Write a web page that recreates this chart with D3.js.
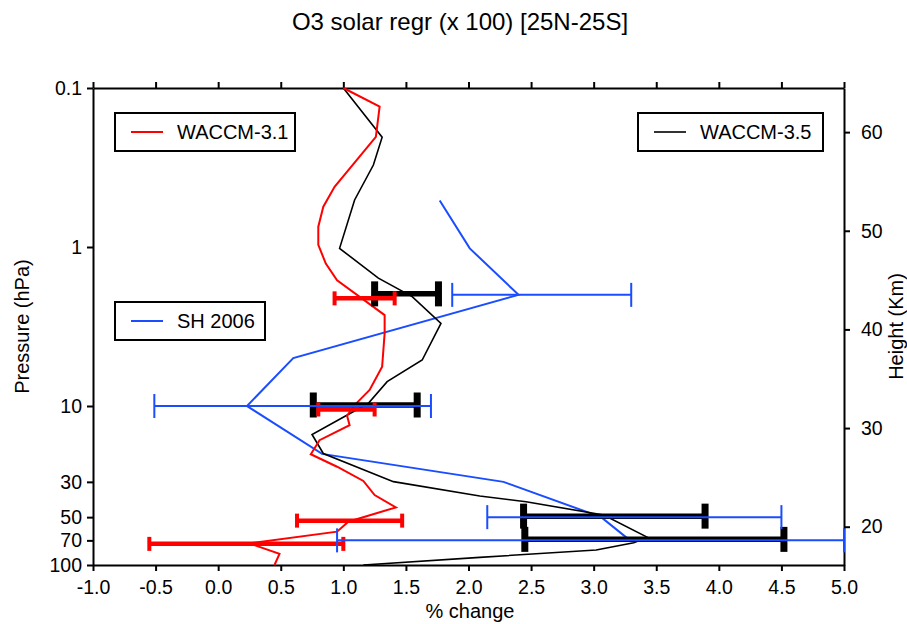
<!DOCTYPE html>
<html>
<head>
<meta charset="utf-8">
<script src="https://cdn.jsdelivr.net/npm/d3@7"></script>
<style>
  body { margin: 0; background: #fff; }
  svg text { font-family: "Liberation Sans", Arial, Helvetica, sans-serif; fill: #000; }
</style>
</head>
<body>
<svg id="mainsvg" width="907" height="624"></svg>
<script>
// tick values
var xTicks = [-1.0, -0.5, 0.0, 0.5, 1.0, 1.5, 2.0, 2.5, 3.0, 3.5, 4.0, 4.5, 5.0];
var presTicks = [0.1, 1, 10, 30, 50, 70, 100];
var heightTicks = [20, 30, 40, 50, 60];

// WACCM-3.1 profile (red)
var w31Pres = [0.1, 0.131, 0.203, 0.418, 0.558, 0.745, 0.97, 1.27, 1.62, 2.68, 3.49, 5.66, 7.93, 9.86, 11.5, 13.2, 16.4, 20.1, 24.1, 29.6, 36.3, 43.4, 53.4, 61.7, 73.1, 85.1, 100];
var w31Val  = [1.00, 1.29, 1.26, 0.93, 0.84, 0.80, 0.80, 0.86, 0.95, 1.33, 1.33, 1.31, 1.21, 1.09, 1.03, 1.05, 0.81, 0.74, 0.95, 1.16, 1.25, 1.42, 1.04, 0.95, 0.25, 0.49, 0.45];

// WACCM-3.5 profile (black)
var w35Pres = [0.1, 0.204, 0.305, 0.506, 1.02, 1.57, 2.05, 3.02, 5.14, 7.03, 9.62, 15.1, 19.9, 29.9, 36.8, 40, 48.5, 67, 72.4, 80.5, 89.5, 100];
var w35Val  = [1.00, 1.31, 1.24, 1.09, 0.97, 1.28, 1.55, 1.78, 1.63, 1.35, 1.20, 0.75, 0.84, 1.40, 2.09, 2.46, 3.08, 3.43, 3.32, 3.02, 2.09, 1.16];

// SH 2006 (blue)
var shPres = [0.51, 1.02, 2.0, 5.0, 10, 20, 30, 50, 70];
var shVal  = [1.77, 2.01, 2.40, 0.60, 0.23, 0.83, 2.28, 3.06, 3.29];

// error bars
var barPres = [2, 10, 50, 70];
var w35Lo = [1.25, 0.76, 2.44, 2.45];
var w35Hi = [1.76, 1.59, 3.89, 4.52];
var w31Lo = [0.93, 0.80, 0.63, -0.55];
var w31Hi = [1.41, 1.25, 1.47, 1.00];
var shLo  = [1.87, -0.51, 2.15, 0.95];
var shHi  = [3.30, 1.70, 4.50, 5.00];

var svg = d3.select('#mainsvg');
var pLeft = 93, pRight = 844, pTop = 88, pBottom = 565;

var x = d3.scaleLinear().domain([-1, 5]).range([pLeft, pRight]);
var y = d3.scaleLog().domain([0.1, 100]).range([pTop, pBottom]);
// height from log-pressure, 7 km scale height
var H = 7;
var h = d3.scaleLinear().domain([H * Math.log(1000 / 100), H * Math.log(1000 / 0.1)]).range([pBottom, pTop]);

var fmtX = function(d) { return d.toFixed(1); };

var gx = svg.append('g').attr('transform', 'translate(0,' + pBottom + ')')
	.call(d3.axisBottom(x).tickValues(xTicks).tickFormat(fmtX).tickSize(6).tickSizeOuter(0));
var gt = svg.append('g').attr('transform', 'translate(0,' + pTop + ')')
	.call(d3.axisTop(x).tickValues(xTicks).tickFormat('').tickSize(6).tickSizeOuter(0));
var gl = svg.append('g').attr('transform', 'translate(' + pLeft + ',0)')
	.call(d3.axisLeft(y).tickValues(presTicks).tickFormat(function(d) { return String(d); }).tickSize(6).tickSizeOuter(0));
var gr = svg.append('g').attr('transform', 'translate(' + pRight + ',0)')
	.call(d3.axisRight(h).tickValues(heightTicks).tickFormat(function(d) { return String(d); }).tickSize(6).tickSizeOuter(0));

[gx, gt, gl, gr].forEach(function(g) {
	g.select('.domain').attr('stroke', '#000').attr('stroke-width', 2);
	g.selectAll('.tick line').attr('stroke', '#000').attr('stroke-width', 2);
	g.selectAll('.tick text').attr('font-size', 19.5).attr('font-family', '"Liberation Sans", Arial, sans-serif').attr('fill', '#000');
});
gx.selectAll('.tick text').attr('dy', '1.0em');
gl.selectAll('.tick text').attr('x', -11);
gr.selectAll('.tick text').attr('x', 17);

// titles
svg.append('text').attr('x', 460).attr('y', 30).attr('text-anchor', 'middle')
	.attr('font-size', 24).text('O3 solar regr (x 100) [25N-25S]');
svg.append('text').attr('x', 470).attr('y', 618).attr('text-anchor', 'middle')
	.attr('font-size', 20).text('% change');
svg.append('text').attr('transform', 'translate(29,' + ((pTop + pBottom) / 2) + ') rotate(-90)')
	.attr('text-anchor', 'middle').attr('font-size', 20).text('Pressure (hPa)');
svg.append('text').attr('transform', 'translate(903,' + ((pTop + pBottom) / 2) + ') rotate(-90)')
	.attr('text-anchor', 'middle').attr('font-size', 20).text('Height (Km)');

// profiles
var line = d3.line()
	.x(function(d) { return x(d[0]); })
	.y(function(d) { return y(d[1]); });
function zip(v, p) { return v.map(function(d, i) { return [d, p[i]]; }); }

var plot = svg.append('g');
plot.append('path').attr('d', line(zip(shVal, shPres)))
	.attr('fill', 'none').attr('stroke', '#1a4dff').attr('stroke-width', 2);
plot.append('path').attr('d', line(zip(w35Val, w35Pres)))
	.attr('fill', 'none').attr('stroke', '#000').attr('stroke-width', 1.6);
plot.append('path').attr('d', line(zip(w31Val, w31Pres)))
	.attr('fill', 'none').attr('stroke', '#ff0000').attr('stroke-width', 2);

// error bars
function errBars(lo, hi, color, lw, capW, capH, dy) {
	var g = plot.append('g');
	var data = barPres.map(function(p, i) { return {p: p, lo: lo[i], hi: hi[i]}; });
	g.selectAll('line.bar').data(data).enter().append('line')
		.attr('x1', function(d) { return x(d.lo); })
		.attr('x2', function(d) { return x(d.hi); })
		.attr('y1', function(d) { return y(d.p) + dy; })
		.attr('y2', function(d) { return y(d.p) + dy; })
		.attr('stroke', color).attr('stroke-width', lw);
	['lo', 'hi'].forEach(function(k) {
		g.selectAll('rect.' + k).data(data).enter().append('rect')
			.attr('x', function(d) { return x(d[k]) - capW / 2; })
			.attr('y', function(d) { return y(d.p) + dy - capH / 2; })
			.attr('width', capW).attr('height', capH)
			.attr('fill', color);
	});
}
errBars(w35Lo, w35Hi, '#000', 5.5, 7, 25, -1);
errBars(w31Lo, w31Hi, '#ff0000', 4.5, 4, 14, 3.5);
errBars(shLo, shHi, '#1a4dff', 2, 2, 24, 0);

// legends
var legends = [
	{name: 'WACCM-3.1', color: '#ff0000', bx: 115, by: 113, bw: 180, lw: 2},
	{name: 'SH 2006', color: '#1a4dff', bx: 115, by: 302, bw: 150, lw: 2},
	{name: 'WACCM-3.5', color: '#000', bx: 638, by: 113, bw: 185, lw: 1.6}
];
legends.forEach(function(l) {
	var g = svg.append('g').attr('transform', 'translate(' + l.bx + ',' + l.by + ')');
	g.append('rect').attr('width', l.bw).attr('height', 38)
		.attr('fill', '#fff').attr('stroke', '#000').attr('stroke-width', 2);
	g.append('line').attr('x1', 16).attr('x2', 48).attr('y1', 19).attr('y2', 19)
		.attr('stroke', l.color).attr('stroke-width', l.lw);
	g.append('text').attr('x', 62).attr('y', 26).attr('font-size', 20).text(l.name);
});
</script>
</body>
</html>
